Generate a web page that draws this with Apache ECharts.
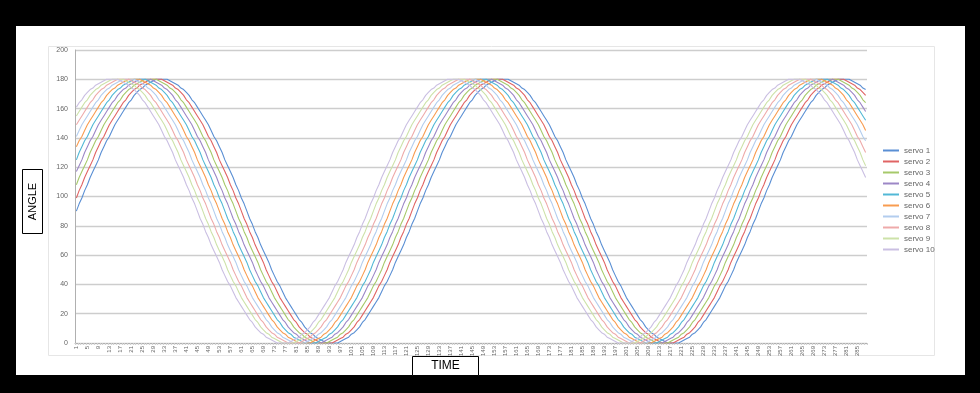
<!DOCTYPE html>
<html><head><meta charset="utf-8">
<script src="https://cdn.jsdelivr.net/npm/echarts@6/dist/echarts.min.js"></script>
<style>html,body{margin:0;padding:0;background:#000;}#c{width:980px;height:393px;}</style>
</head><body><div id="c"></div>
<script>
const categories = [1,2,3,4,5,6,7,8,9,10,11,12,13,14,15,16,17,18,19,20,21,22,23,24,25,26,27,28,29,30,31,32,33,34,35,36,37,38,39,40,41,42,43,44,45,46,47,48,49,50,51,52,53,54,55,56,57,58,59,60,61,62,63,64,65,66,67,68,69,70,71,72,73,74,75,76,77,78,79,80,81,82,83,84,85,86,87,88,89,90,91,92,93,94,95,96,97,98,99,100,101,102,103,104,105,106,107,108,109,110,111,112,113,114,115,116,117,118,119,120,121,122,123,124,125,126,127,128,129,130,131,132,133,134,135,136,137,138,139,140,141,142,143,144,145,146,147,148,149,150,151,152,153,154,155,156,157,158,159,160,161,162,163,164,165,166,167,168,169,170,171,172,173,174,175,176,177,178,179,180,181,182,183,184,185,186,187,188,189,190,191,192,193,194,195,196,197,198,199,200,201,202,203,204,205,206,207,208,209,210,211,212,213,214,215,216,217,218,219,220,221,222,223,224,225,226,227,228,229,230,231,232,233,234,235,236,237,238,239,240,241,242,243,244,245,246,247,248,249,250,251,252,253,254,255,256,257,258,259,260,261,262,263,264,265,266,267,268,269,270,271,272,273,274,275,276,277,278,279,280,281,282,283,284,285,286,287,288];

const servo1 = [90,95,99,104,108,113,117,121,125,130,134,138,141,145,149,152,155,158,161,164,166,169,171,173,174,176,177,178,179,180,180,180,
180,180,179,178,177,176,174,173,171,169,166,164,161,158,155,152,149,145,141,138,134,130,125,121,117,113,108,104,99,95,90,85,81,76,72,67,63,59,55,50,46,42,39,35,31,28,25,22,19,16,14,11,9,7,6,4,3,2,1,0,0,0,0,0,1,2,3,4,6,7,9,11,14,16,19,22,25,28,31,35,39,42,46,50,55,59,63,67,72,76,81,85,
90,95,99,104,108,113,117,121,125,130,134,138,141,145,149,152,155,158,161,164,166,169,171,173,174,176,177,178,179,180,180,180,
180,180,179,178,177,176,174,173,171,169,166,164,161,158,155,152,149,145,141,138,134,130,125,121,117,113,108,104,99,95,90,85,81,76,72,67,63,59,55,50,46,42,39,35,31,28,25,22,19,16,14,11,9,7,6,4,3,2,1,0,0,0,0,0,1,2,3,4,6,7,9,11,14,16,19,22,25,28,31,35,39,42,46,50,55,59,63,67,72,76,81,85,
90,95,99,104,108,113,117,121,125,130,134,138,141,145,149,152,155,158,161,164,166,169,171,173,174,176,177,178,179,180,180,180,
180,180,179,178,177,176,174,173];

const servo2 = [99,104,108,113,117,121,125,130,134,138,141,145,149,152,155,158,161,164,166,169,171,173,174,176,177,178,179,180,180,180,
180,180,179,178,177,176,174,173,171,169,166,164,161,158,155,152,149,145,141,138,134,130,125,121,117,113,108,104,99,95,90,85,81,76,72,67,63,59,55,50,46,42,39,35,31,28,25,22,19,16,14,11,9,7,6,4,3,2,1,0,0,0,0,0,1,2,3,4,6,7,9,11,14,16,19,22,25,28,31,35,39,42,46,50,55,59,63,67,72,76,81,85,
90,95,99,104,108,113,117,121,125,130,134,138,141,145,149,152,155,158,161,164,166,169,171,173,174,176,177,178,179,180,180,180,
180,180,179,178,177,176,174,173,171,169,166,164,161,158,155,152,149,145,141,138,134,130,125,121,117,113,108,104,99,95,90,85,81,76,72,67,63,59,55,50,46,42,39,35,31,28,25,22,19,16,14,11,9,7,6,4,3,2,1,0,0,0,0,0,1,2,3,4,6,7,9,11,14,16,19,22,25,28,31,35,39,42,46,50,55,59,63,67,72,76,81,85,
90,95,99,104,108,113,117,121,125,130,134,138,141,145,149,152,155,158,161,164,166,169,171,173,174,176,177,178,179,180,180,180,
180,180,179,178,177,176,174,173,171,169];

const servo3 = [108,113,117,121,125,130,134,138,141,145,149,152,155,158,161,164,166,169,171,173,174,176,177,178,179,180,180,180,
180,180,179,178,177,176,174,173,171,169,166,164,161,158,155,152,149,145,141,138,134,130,125,121,117,113,108,104,99,95,90,85,81,76,72,67,63,59,55,50,46,42,39,35,31,28,25,22,19,16,14,11,9,7,6,4,3,2,1,0,0,0,0,0,1,2,3,4,6,7,9,11,14,16,19,22,25,28,31,35,39,42,46,50,55,59,63,67,72,76,81,85,
90,95,99,104,108,113,117,121,125,130,134,138,141,145,149,152,155,158,161,164,166,169,171,173,174,176,177,178,179,180,180,180,
180,180,179,178,177,176,174,173,171,169,166,164,161,158,155,152,149,145,141,138,134,130,125,121,117,113,108,104,99,95,90,85,81,76,72,67,63,59,55,50,46,42,39,35,31,28,25,22,19,16,14,11,9,7,6,4,3,2,1,0,0,0,0,0,1,2,3,4,6,7,9,11,14,16,19,22,25,28,31,35,39,42,46,50,55,59,63,67,72,76,81,85,
90,95,99,104,108,113,117,121,125,130,134,138,141,145,149,152,155,158,161,164,166,169,171,173,174,176,177,178,179,180,180,180,
180,180,179,178,177,176,174,173,171,169,166,164];

const servo4 = [117,121,125,130,134,138,141,145,149,152,155,158,161,164,166,169,171,173,174,176,177,178,179,180,180,180,
180,180,179,178,177,176,174,173,171,169,166,164,161,158,155,152,149,145,141,138,134,130,125,121,117,113,108,104,99,95,90,85,81,76,72,67,63,59,55,50,46,42,39,35,31,28,25,22,19,16,14,11,9,7,6,4,3,2,1,0,0,0,0,0,1,2,3,4,6,7,9,11,14,16,19,22,25,28,31,35,39,42,46,50,55,59,63,67,72,76,81,85,
90,95,99,104,108,113,117,121,125,130,134,138,141,145,149,152,155,158,161,164,166,169,171,173,174,176,177,178,179,180,180,180,
180,180,179,178,177,176,174,173,171,169,166,164,161,158,155,152,149,145,141,138,134,130,125,121,117,113,108,104,99,95,90,85,81,76,72,67,63,59,55,50,46,42,39,35,31,28,25,22,19,16,14,11,9,7,6,4,3,2,1,0,0,0,0,0,1,2,3,4,6,7,9,11,14,16,19,22,25,28,31,35,39,42,46,50,55,59,63,67,72,76,81,85,
90,95,99,104,108,113,117,121,125,130,134,138,141,145,149,152,155,158,161,164,166,169,171,173,174,176,177,178,179,180,180,180,
180,180,179,178,177,176,174,173,171,169,166,164,161,158];

const servo5 = [125,130,134,138,141,145,149,152,155,158,161,164,166,169,171,173,174,176,177,178,179,180,180,180,
180,180,179,178,177,176,174,173,171,169,166,164,161,158,155,152,149,145,141,138,134,130,125,121,117,113,108,104,99,95,90,85,81,76,72,67,63,59,55,50,46,42,39,35,31,28,25,22,19,16,14,11,9,7,6,4,3,2,1,0,0,0,0,0,1,2,3,4,6,7,9,11,14,16,19,22,25,28,31,35,39,42,46,50,55,59,63,67,72,76,81,85,
90,95,99,104,108,113,117,121,125,130,134,138,141,145,149,152,155,158,161,164,166,169,171,173,174,176,177,178,179,180,180,180,
180,180,179,178,177,176,174,173,171,169,166,164,161,158,155,152,149,145,141,138,134,130,125,121,117,113,108,104,99,95,90,85,81,76,72,67,63,59,55,50,46,42,39,35,31,28,25,22,19,16,14,11,9,7,6,4,3,2,1,0,0,0,0,0,1,2,3,4,6,7,9,11,14,16,19,22,25,28,31,35,39,42,46,50,55,59,63,67,72,76,81,85,
90,95,99,104,108,113,117,121,125,130,134,138,141,145,149,152,155,158,161,164,166,169,171,173,174,176,177,178,179,180,180,180,
180,180,179,178,177,176,174,173,171,169,166,164,161,158,155,152];

const servo6 = [134,138,141,145,149,152,155,158,161,164,166,169,171,173,174,176,177,178,179,180,180,180,
180,180,179,178,177,176,174,173,171,169,166,164,161,158,155,152,149,145,141,138,134,130,125,121,117,113,108,104,99,95,90,85,81,76,72,67,63,59,55,50,46,42,39,35,31,28,25,22,19,16,14,11,9,7,6,4,3,2,1,0,0,0,0,0,1,2,3,4,6,7,9,11,14,16,19,22,25,28,31,35,39,42,46,50,55,59,63,67,72,76,81,85,
90,95,99,104,108,113,117,121,125,130,134,138,141,145,149,152,155,158,161,164,166,169,171,173,174,176,177,178,179,180,180,180,
180,180,179,178,177,176,174,173,171,169,166,164,161,158,155,152,149,145,141,138,134,130,125,121,117,113,108,104,99,95,90,85,81,76,72,67,63,59,55,50,46,42,39,35,31,28,25,22,19,16,14,11,9,7,6,4,3,2,1,0,0,0,0,0,1,2,3,4,6,7,9,11,14,16,19,22,25,28,31,35,39,42,46,50,55,59,63,67,72,76,81,85,
90,95,99,104,108,113,117,121,125,130,134,138,141,145,149,152,155,158,161,164,166,169,171,173,174,176,177,178,179,180,180,180,
180,180,179,178,177,176,174,173,171,169,166,164,161,158,155,152,149,145];

const servo7 = [141,145,149,152,155,158,161,164,166,169,171,173,174,176,177,178,179,180,180,180,
180,180,179,178,177,176,174,173,171,169,166,164,161,158,155,152,149,145,141,138,134,130,125,121,117,113,108,104,99,95,90,85,81,76,72,67,63,59,55,50,46,42,39,35,31,28,25,22,19,16,14,11,9,7,6,4,3,2,1,0,0,0,0,0,1,2,3,4,6,7,9,11,14,16,19,22,25,28,31,35,39,42,46,50,55,59,63,67,72,76,81,85,
90,95,99,104,108,113,117,121,125,130,134,138,141,145,149,152,155,158,161,164,166,169,171,173,174,176,177,178,179,180,180,180,
180,180,179,178,177,176,174,173,171,169,166,164,161,158,155,152,149,145,141,138,134,130,125,121,117,113,108,104,99,95,90,85,81,76,72,67,63,59,55,50,46,42,39,35,31,28,25,22,19,16,14,11,9,7,6,4,3,2,1,0,0,0,0,0,1,2,3,4,6,7,9,11,14,16,19,22,25,28,31,35,39,42,46,50,55,59,63,67,72,76,81,85,
90,95,99,104,108,113,117,121,125,130,134,138,141,145,149,152,155,158,161,164,166,169,171,173,174,176,177,178,179,180,180,180,
180,180,179,178,177,176,174,173,171,169,166,164,161,158,155,152,149,145,141,138];

const servo8 = [149,152,155,158,161,164,166,169,171,173,174,176,177,178,179,180,180,180,
180,180,179,178,177,176,174,173,171,169,166,164,161,158,155,152,149,145,141,138,134,130,125,121,117,113,108,104,99,95,90,85,81,76,72,67,63,59,55,50,46,42,39,35,31,28,25,22,19,16,14,11,9,7,6,4,3,2,1,0,0,0,0,0,1,2,3,4,6,7,9,11,14,16,19,22,25,28,31,35,39,42,46,50,55,59,63,67,72,76,81,85,
90,95,99,104,108,113,117,121,125,130,134,138,141,145,149,152,155,158,161,164,166,169,171,173,174,176,177,178,179,180,180,180,
180,180,179,178,177,176,174,173,171,169,166,164,161,158,155,152,149,145,141,138,134,130,125,121,117,113,108,104,99,95,90,85,81,76,72,67,63,59,55,50,46,42,39,35,31,28,25,22,19,16,14,11,9,7,6,4,3,2,1,0,0,0,0,0,1,2,3,4,6,7,9,11,14,16,19,22,25,28,31,35,39,42,46,50,55,59,63,67,72,76,81,85,
90,95,99,104,108,113,117,121,125,130,134,138,141,145,149,152,155,158,161,164,166,169,171,173,174,176,177,178,179,180,180,180,
180,180,179,178,177,176,174,173,171,169,166,164,161,158,155,152,149,145,141,138,134,130];

const servo9 = [155,158,161,164,166,169,171,173,174,176,177,178,179,180,180,180,
180,180,179,178,177,176,174,173,171,169,166,164,161,158,155,152,149,145,141,138,134,130,125,121,117,113,108,104,99,95,90,85,81,76,72,67,63,59,55,50,46,42,39,35,31,28,25,22,19,16,14,11,9,7,6,4,3,2,1,0,0,0,0,0,1,2,3,4,6,7,9,11,14,16,19,22,25,28,31,35,39,42,46,50,55,59,63,67,72,76,81,85,
90,95,99,104,108,113,117,121,125,130,134,138,141,145,149,152,155,158,161,164,166,169,171,173,174,176,177,178,179,180,180,180,
180,180,179,178,177,176,174,173,171,169,166,164,161,158,155,152,149,145,141,138,134,130,125,121,117,113,108,104,99,95,90,85,81,76,72,67,63,59,55,50,46,42,39,35,31,28,25,22,19,16,14,11,9,7,6,4,3,2,1,0,0,0,0,0,1,2,3,4,6,7,9,11,14,16,19,22,25,28,31,35,39,42,46,50,55,59,63,67,72,76,81,85,
90,95,99,104,108,113,117,121,125,130,134,138,141,145,149,152,155,158,161,164,166,169,171,173,174,176,177,178,179,180,180,180,
180,180,179,178,177,176,174,173,171,169,166,164,161,158,155,152,149,145,141,138,134,130,125,121];

const servo10 = [161,164,166,169,171,173,174,176,177,178,179,180,180,180,
180,180,179,178,177,176,174,173,171,169,166,164,161,158,155,152,149,145,141,138,134,130,125,121,117,113,108,104,99,95,90,85,81,76,72,67,63,59,55,50,46,42,39,35,31,28,25,22,19,16,14,11,9,7,6,4,3,2,1,0,0,0,0,0,1,2,3,4,6,7,9,11,14,16,19,22,25,28,31,35,39,42,46,50,55,59,63,67,72,76,81,85,
90,95,99,104,108,113,117,121,125,130,134,138,141,145,149,152,155,158,161,164,166,169,171,173,174,176,177,178,179,180,180,180,
180,180,179,178,177,176,174,173,171,169,166,164,161,158,155,152,149,145,141,138,134,130,125,121,117,113,108,104,99,95,90,85,81,76,72,67,63,59,55,50,46,42,39,35,31,28,25,22,19,16,14,11,9,7,6,4,3,2,1,0,0,0,0,0,1,2,3,4,6,7,9,11,14,16,19,22,25,28,31,35,39,42,46,50,55,59,63,67,72,76,81,85,
90,95,99,104,108,113,117,121,125,130,134,138,141,145,149,152,155,158,161,164,166,169,171,173,174,176,177,178,179,180,180,180,
180,180,179,178,177,176,174,173,171,169,166,164,161,158,155,152,149,145,141,138,134,130,125,121,117,113];

const seriesNames = ['servo 1','servo 2','servo 3','servo 4','servo 5','servo 6','servo 7','servo 8','servo 9','servo 10'];
const seriesValues = [servo1,servo2,servo3,servo4,servo5,servo6,servo7,servo8,servo9,servo10];
const yMin = 0, yMax = 200, yStep = 20;

const colors = ['#5a8fd4','#e06464','#a6c96a','#9c87c6','#52b8d6','#f89c50','#b3cdee','#eeaaaa','#cde2a9','#cabfe2'];
const FONT = 'Liberation Sans';

const chart = echarts.init(document.getElementById('c'), null, {renderer: 'canvas'});
chart.setOption({
  animation: false,
  backgroundColor: '#000',
  color: colors,
  textStyle: {fontFamily: FONT},
  grid: {left: 75, right: 113, top: 50, bottom: 50},
  legend: {
    orient: 'vertical', left: 878, top: 140,
    itemWidth: 16, itemHeight: 2, itemGap: 0, icon: 'rect',
    textStyle: {fontSize: 8, color: '#666', lineHeight: 11, fontFamily: FONT},
    data: seriesNames
  },
  xAxis: {
    type: 'category', data: categories, boundaryGap: true,
    axisLine: {lineStyle: {color: '#b0b0b0', width: 1}},
    axisTick: {show: true, interval: 0, length: 2, lineStyle: {color: '#d0d0d0'}},
    axisLabel: {interval: 3, rotate: 90, fontSize: 6, color: '#666', margin: 3, fontFamily: FONT},
    splitLine: {show: false}
  },
  yAxis: {
    type: 'value', min: yMin, max: yMax, interval: yStep,
    axisLine: {show: true, lineStyle: {color: '#b0b0b0'}},
    axisTick: {show: false},
    splitLine: {lineStyle: {color: '#cdcdcd', width: 1.3}},
    axisLabel: {fontSize: 7, color: '#666', margin: 7, fontFamily: FONT}
  },
  series: seriesNames.map((n, i) => ({
    name: n, type: 'line', data: seriesValues[i],
    symbol: 'none', showSymbol: false,
    lineStyle: {width: 1.1},
    emphasis: {disabled: true}
  })),
  graphic: [
    {type: 'rect', z: -10, shape: {x: 16, y: 26, width: 949, height: 349}, style: {fill: '#ffffff'}},
    {type: 'rect', z: -9, shape: {x: 48.5, y: 46.5, width: 886, height: 309}, style: {fill: 'none', stroke: '#e6e6e6', lineWidth: 1}},
    {type: 'rect', z: 50, shape: {x: 22.5, y: 169.5, width: 20, height: 64}, style: {fill: '#fff', stroke: '#000', lineWidth: 1}},
    {type: 'text', z: 51, x: 32.5, y: 201.5, rotation: Math.PI / 2,
      style: {text: 'ANGLE', fill: '#000', font: '11px "Liberation Sans"', textAlign: 'center', textVerticalAlign: 'middle', align: 'center', verticalAlign: 'middle'}},
    {type: 'rect', z: 50, shape: {x: 412.5, y: 356.5, width: 66, height: 19}, style: {fill: '#fff', stroke: '#000', lineWidth: 1}},
    {type: 'text', z: 51, x: 445.5, y: 366, 
      style: {text: 'TIME', fill: '#000', font: '12px "Liberation Sans"', textAlign: 'center', textVerticalAlign: 'middle', align: 'center', verticalAlign: 'middle'}}
  ]
});
</script>
</body></html>
